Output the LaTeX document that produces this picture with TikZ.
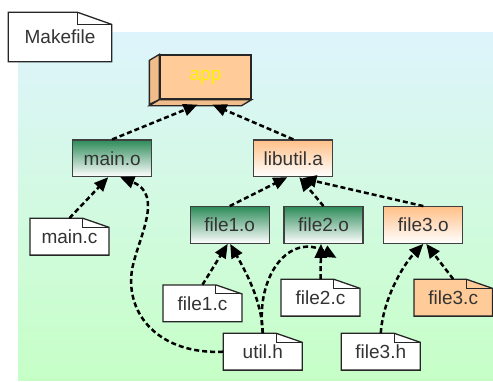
\documentclass[tikz,border=0pt]{standalone}
\usepackage{fontspec}
\setmainfont{Liberation Sans}
\usetikzlibrary{arrows.meta,calc}
\definecolor{peach}{RGB}{255,204,153}
\definecolor{peachdark}{RGB}{240,188,138}
\definecolor{peachtop}{RGB}{255,192,136}
\definecolor{greentop}{RGB}{46,140,90}
\definecolor{bgtop}{RGB}{222,244,252}
\definecolor{bgbot}{RGB}{198,255,198}
\definecolor{txt}{RGB}{51,51,51}
\definecolor{appyellow}{RGB}{255,240,0}
\newcommand\mydocnode[6]{%
  \begin{scope}[shift={#3}]
    \filldraw[fill=#1, draw=black!85, line width=1.3pt, line join=miter]
      (-#4,-#5) -- ({0.34*#4},-#5) -- (#4,{-0.51*#5}) -- (#4,#5) -- (-#4,#5) -- cycle;
    \draw[black!85, line width=0.9pt] ({0.34*#4},-#5) -- ({0.34*#4},{-0.51*#5}) -- (#4,{-0.51*#5});
  \end{scope}
  \node[doctext, minimum width={2*#4 pt}, minimum height={2*#5 pt}] (#2) at #3 {#6};%
}
\begin{document}
\begin{tikzpicture}[x=1pt,y=-1pt,
  every node/.style={font=\fontsize{19}{22}\selectfont, text=txt, inner sep=0pt},
  doctext/.style={},
  obox/.style={draw=black!75, line width=1.3pt, minimum width=79pt, minimum height=36.5pt},
  greenbox/.style={obox, top color=greentop, bottom color=white},
  peachbox/.style={obox, top color=peachtop, bottom color=white},
  dep/.style={draw=black, line width=2.5pt, dash pattern=on 5pt off 3pt, -{Triangle[length=14pt,width=12pt]}},
]
\useasboundingbox (0,0) rectangle (493,381);
\shade[top color=bgtop, bottom color=bgbot] (18,32) rectangle (493,380);

\mydocnode{white}{makefile}{(60,37)}{51.7}{24.7}{Makefile}

% app 3D box
\node[draw=black!85, line width=1.3pt, fill=peach, minimum width=91pt, minimum height=44pt, text=appyellow] (app) at (205.5,77) {app};
\filldraw[fill=peachdark, draw=black!85, line width=1.3pt, line join=miter]
  (app.north west) -- ++(-10,6) -- ++(0,44) -- (app.south west) -- cycle;
\filldraw[fill=peachdark, draw=black!85, line width=1.3pt, line join=miter]
  (app.south west) -- ++(-10,6) -- ([xshift=-10pt,yshift=-6pt]app.south east) -- (app.south east) -- cycle;

\node[greenbox] (maino) at (112.2,158.3) {main.o};
\node[peachbox] (libutil) at (293.3,158.3) {libutil.a};
\node[greenbox] (file1o) at (229.7,225) {file1.o};
\node[greenbox] (file2o) at (323.5,225) {file2.o};
\node[peachbox] (file3o) at (423.3,225) {file3.o};

\mydocnode{white}{mainc}{(69.5,236.7)}{39.5}{18.4}{main.c}
\mydocnode{white}{file1c}{(202.5,303.3)}{39.5}{18.4}{file1.c}
\mydocnode{white}{file2c}{(320.5,297.7)}{39.5}{18.4}{file2.c}
\mydocnode{peach}{file3c}{(453.2,297.7)}{39.2}{18.4}{file3.c}
\mydocnode{white}{utilh}{(262.8,351.7)}{39.5}{18.4}{util.h}
\mydocnode{white}{file3h}{(380.8,351.7)}{39.5}{18.4}{file3.h}

% dependencies
\draw[dep] (maino.north) -- ([xshift=-8pt,yshift=-5pt]app.south);
\draw[dep] (libutil.north) -- ([xshift=7pt,yshift=-5pt]app.south);
\draw[dep] (file1o.north) -- ([xshift=-6pt]libutil.south);
\draw[dep] (file2o.north) -- ([xshift=6pt]libutil.south);
\draw[dep] (file3o.north) -- ([xshift=9pt,yshift=-1pt]libutil.south);
\draw[dep] (mainc.north) -- ([xshift=-4pt]maino.south);
\draw[dep] (utilh.west) .. controls +(-63,3) and (125,315) .. (132,270)
  .. controls (137,240) and (165,195) .. ([xshift=8pt]maino.south);
\draw[dep] (file1c.north) -- ([xshift=-2pt]file1o.south);
\draw[dep] (utilh.north) .. controls +(-1,-33) and +(15,27) .. ([xshift=0.5pt]file1o.south);
\draw[dep] (utilh.north) .. controls (255,275) and (290,232) .. ([xshift=13pt,yshift=-14pt]file2o.south);
\draw[dep] (file2c.north) -- ([xshift=-2.5pt]file2o.south);
\draw[dep] (file3h.north) .. controls +(2,-33) and +(-21,22) .. (file3o.south);
\draw[dep] (file3c.north) -- ([xshift=3pt]file3o.south);
\end{tikzpicture}
\end{document}
